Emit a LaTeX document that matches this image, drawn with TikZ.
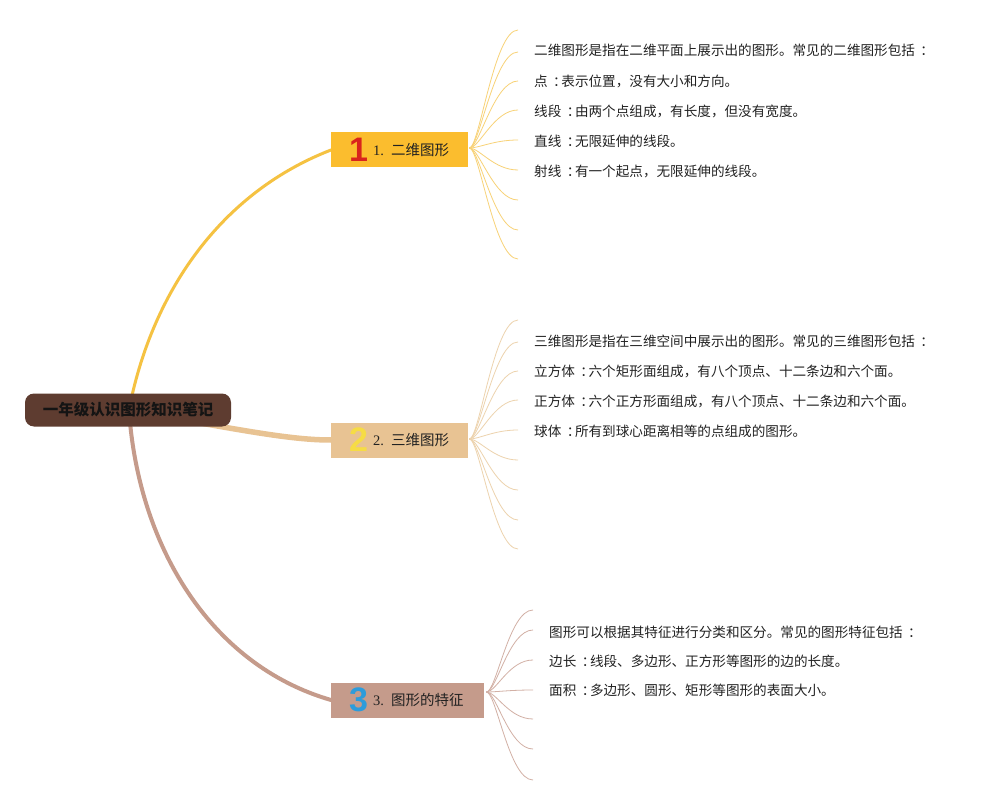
\documentclass[tikz,border=0pt]{standalone}
\usepackage{fontspec}
\setmainfont{Noto Sans CJK SC}
\newfontfamily\serifn{Liberation Serif}
\newfontfamily\bignum{Liberation Sans}
\usetikzlibrary{calc}
\definecolor{rootc}{HTML}{5E3C30}
\definecolor{cA}{HTML}{FBBD2E}
\definecolor{cAline}{HTML}{F5C242}
\definecolor{cAfan}{HTML}{F8D277}
\definecolor{cB}{HTML}{E8C393}
\definecolor{cBfan}{HTML}{EDD3AE}
\definecolor{cC}{HTML}{C59B8B}
\definecolor{cCfan}{HTML}{D2B0A5}
\definecolor{nA}{HTML}{D9241C}
\definecolor{nB}{HTML}{F6DC45}
\definecolor{nC}{HTML}{2D9CDB}
\definecolor{txt}{HTML}{222222}
\newcommand\BigNum[2]{{\bignum\bfseries\fontsize{34}{34}\selectfont\color{#1}#2}}
\newcommand\BrLab[2]{\raisebox{6pt}{{\serifn #1 }#2}}
\newcommand\Qc{\makebox[1em][l]{\hspace{0.4em}：}}
\pgfdeclarelayer{bg}\pgfsetlayers{bg,main}
\begin{document}
\begin{tikzpicture}[x=1pt,y=-1pt,
  rootbox/.style={fill=rootc, rounded corners=9pt, minimum width=206pt, minimum height=33pt, inner sep=0pt, font=\fontsize{15.5}{18}\selectfont\bfseries, text=black!92},
  branchbox/.style={minimum height=35pt, inner ysep=0pt, inner xsep=18pt, anchor=west, align=left, font=\fontsize{14.5}{17}\selectfont, text=txt},
  leaf/.style={anchor=west, inner sep=0pt, font=\fontsize{13.6}{16}\selectfont, text=txt},
  fanA/.style={draw=cAfan, line width=0.8pt},
  fanB/.style={draw=cBfan, line width=0.8pt},
  fanC/.style={draw=cCfan, line width=0.8pt},
  mainline/.style={line cap=round}]
\useasboundingbox (0,0) rectangle (999,805);

\node[rootbox] (root) at (128,410) {一年级认识图形知识笔记};
\node[branchbox, fill=cA, text width=101pt] (b1) at (331,150) {\BigNum{nA}{1}\hspace{5pt}\BrLab{1.}{二维图形}};
\node[branchbox, fill=cB, text width=101pt] (b2) at (331,440) {\BigNum{nB}{2}\hspace{5pt}\BrLab{2.}{三维图形}};
\node[branchbox, fill=cC, text width=117pt] (b3) at (331,700) {\BigNum{nC}{3}\hspace{5pt}\BrLab{3.}{图形的特征}};

\begin{pgfonlayer}{bg}
\fill[white] (0,0) rectangle (999,805);
\draw[mainline, cAline, line width=3pt] ($(root.center)+(1,0)$) .. controls (150,300) and (215,195) .. (b1.west);
\draw[mainline, cB, line width=5.5pt] (root.center) .. controls (240,430) and (290,440) .. (b2.west);
\draw[mainline, cC, line width=4pt] ($(root.center)+(1,0)$) .. controls (138,545) and (210,665) .. (b3.west);
\end{pgfonlayer}

\coordinate (oA) at ($(b1.east)+(1,-2)$);
\foreach \y [count=\i] in {30,52,81,110,140,170,200,230,259}{
  \coordinate (eA\i) at (518,\y);
  \draw[fanA] (oA) .. controls +(10,0) and +(-24,0) .. (eA\i);
}
\coordinate (oB) at ($(b2.east)+(1,-1)$);
\foreach \y [count=\i] in {320,342,371,400,430,460,490,520,549}{
  \coordinate (eB\i) at (518,\y);
  \draw[fanB] (oB) .. controls +(10,0) and +(-24,0) .. (eB\i);
}
\coordinate (oC) at ($(b3.east)+(2,-8)$);
\foreach \y [count=\i] in {610,630,660,690,719,749,780}{
  \coordinate (eC\i) at (533,\y);
  \draw[fanC] (oC) .. controls +(10,0) and +(-24,0) .. (eC\i);
}

\node[leaf] (tA1) at (534,50) {二维图形是指在二维平面上展示出的图形。常见的二维图形包括\Qc};
\node[leaf] (tA2) at (534,81) {点\Qc 表示位置，没有大小和方向。};
\node[leaf] (tA3) at (534,111) {线段\Qc 由两个点组成，有长度，但没有宽度。};
\node[leaf] (tA4) at (534,141) {直线\Qc 无限延伸的线段。};
\node[leaf] (tA5) at (534,171) {射线\Qc 有一个起点，无限延伸的线段。};

\node[leaf] (tB1) at (534,341) {三维图形是指在三维空间中展示出的图形。常见的三维图形包括\Qc};
\node[leaf] (tB2) at (534,371) {立方体\Qc 六个矩形面组成，有八个顶点、十二条边和六个面。};
\node[leaf] (tB3) at (534,401) {正方体\Qc 六个正方形面组成，有八个顶点、十二条边和六个面。};
\node[leaf] (tB4) at (534,431) {球体\Qc 所有到球心距离相等的点组成的图形。};

\node[leaf] (tC1) at (549,632) {图形可以根据其特征进行分类和区分。常见的图形特征包括\Qc};
\node[leaf] (tC2) at (549,661) {边长\Qc 线段、多边形、正方形等图形的边的长度。};
\node[leaf] (tC3) at (549,690) {面积\Qc 多边形、圆形、矩形等图形的表面大小。};
\end{tikzpicture}
\end{document}
